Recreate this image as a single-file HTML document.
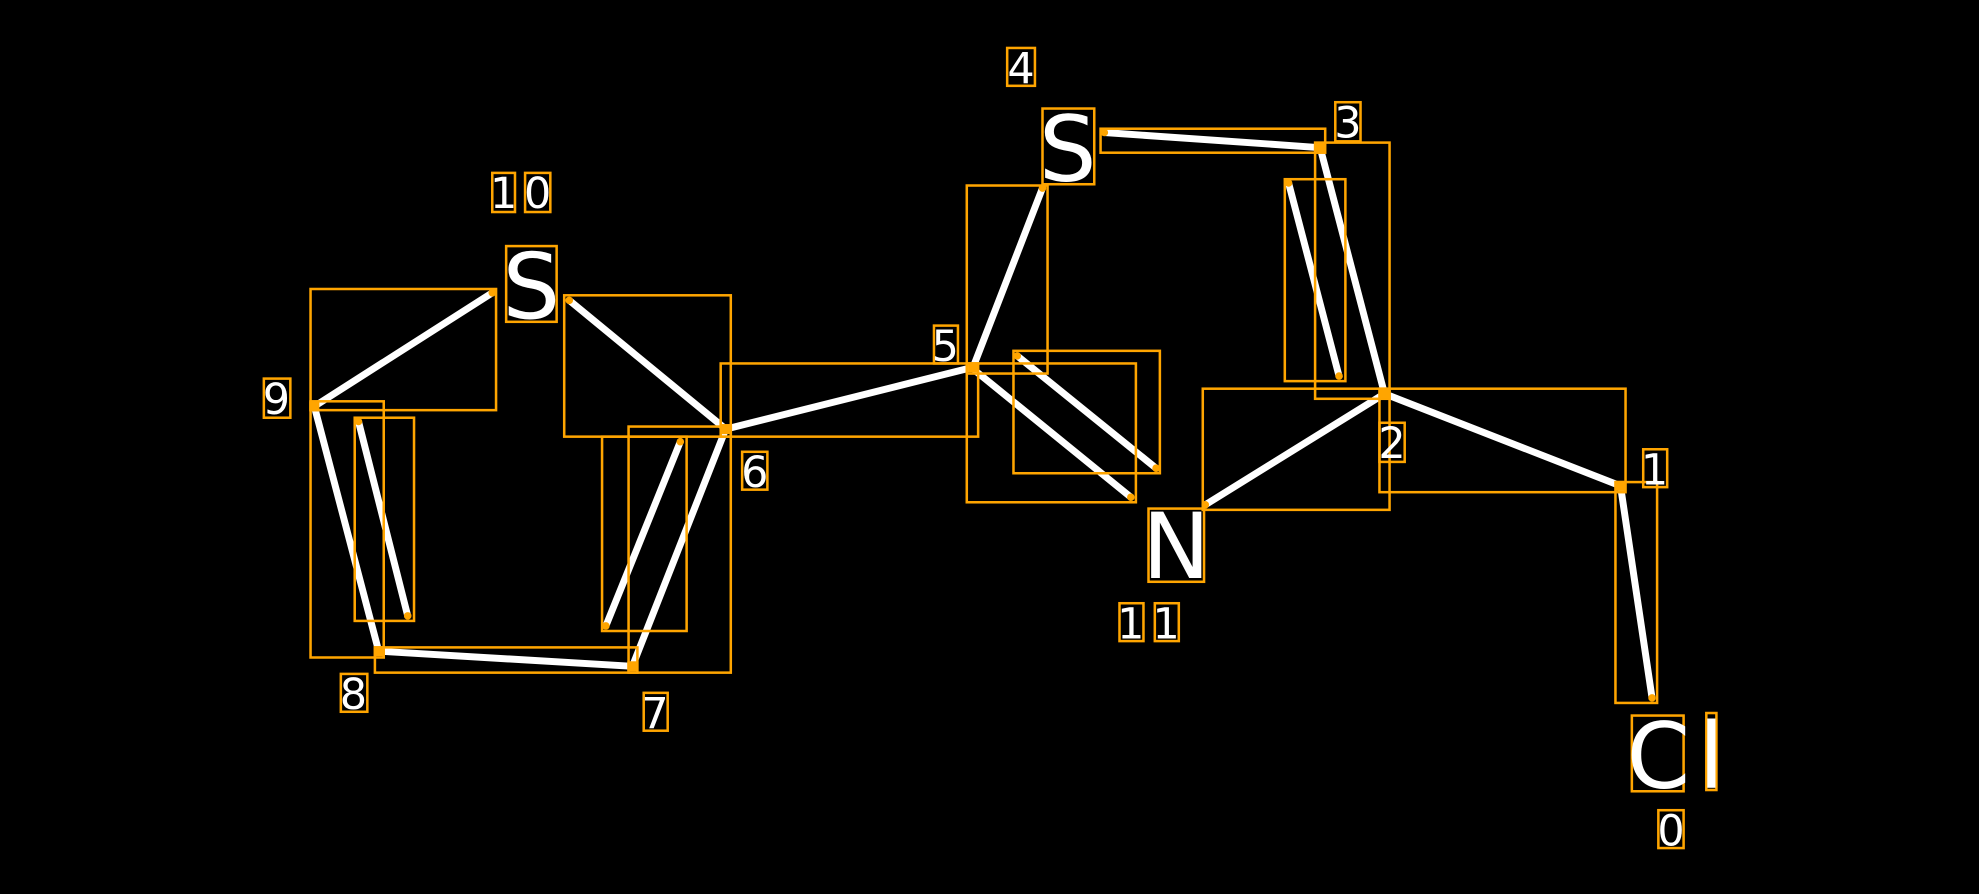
<!DOCTYPE html>
<html><head><meta charset="utf-8"><style>
html,body{margin:0;padding:0;background:#000;}
svg{display:block;}
text{font-family:"DejaVu Sans","Liberation Sans",sans-serif;fill:#fff;text-anchor:middle;}
</style></head><body>
<svg width="1979" height="894" viewBox="0 0 1568 708.4" xmlns="http://www.w3.org/2000/svg">
<rect width="1568" height="708.4" fill="#000"/>
<g stroke="#fff" stroke-width="5.5" stroke-linecap="round">
<line x1="249" y1="322" x2="390" y2="232"/>
<line x1="451" y1="238" x2="575" y2="340"/>
<line x1="575" y1="340" x2="771" y2="291"/>
<line x1="771" y1="291" x2="826" y2="149"/>
<line x1="875" y1="105" x2="1046" y2="117"/>
<line x1="1046" y1="117" x2="1097" y2="312"/>
<line x1="1021" y1="145" x2="1061" y2="298"/>
<line x1="1097" y1="312" x2="1284" y2="385"/>
<line x1="1284" y1="385" x2="1309" y2="553"/>
<line x1="1097" y1="312" x2="955" y2="400"/>
<line x1="773" y1="294" x2="896" y2="394"/>
<line x1="806" y1="282" x2="916" y2="371"/>
<line x1="575" y1="340" x2="501" y2="528"/>
<line x1="539" y1="350" x2="480" y2="496"/>
<line x1="501" y1="528" x2="300" y2="516"/>
<line x1="300" y1="516" x2="249" y2="322"/>
<line x1="284" y1="334" x2="323" y2="488"/>
</g>
<g fill="none" stroke="#FFA500" stroke-width="2">
<rect x="246" y="229" width="147" height="96"/>
<rect x="447" y="234" width="132" height="112"/>
<rect x="571" y="288" width="204" height="58"/>
<rect x="766" y="147" width="64" height="149"/>
<rect x="872" y="102" width="178" height="19"/>
<rect x="1042" y="113" width="59" height="203"/>
<rect x="1018" y="142" width="48" height="160"/>
<rect x="1093" y="308" width="195" height="82"/>
<rect x="1280" y="382" width="33" height="175"/>
<rect x="953" y="308" width="148" height="96"/>
<rect x="766" y="288" width="134" height="110"/>
<rect x="803" y="278" width="116" height="97"/>
<rect x="498" y="338" width="81" height="195"/>
<rect x="477" y="346" width="67" height="154"/>
<rect x="297" y="513" width="208" height="20"/>
<rect x="246" y="318" width="58" height="203"/>
<rect x="281" y="331" width="47" height="161"/>
<rect x="798" y="38" width="22" height="30"/>
<rect x="826" y="86" width="41" height="60"/>
<rect x="1058" y="81" width="20" height="31"/>
<rect x="390" y="137" width="18" height="31"/>
<rect x="416" y="137" width="20" height="31"/>
<rect x="401" y="195" width="40" height="60"/>
<rect x="209" y="300" width="21" height="31"/>
<rect x="740" y="258" width="19" height="30"/>
<rect x="588" y="358" width="20" height="30"/>
<rect x="1093" y="335" width="20" height="31"/>
<rect x="1302" y="356" width="19" height="30"/>
<rect x="910" y="403" width="44" height="58"/>
<rect x="887" y="478" width="19" height="30"/>
<rect x="915" y="478" width="19" height="30"/>
<rect x="270" y="534" width="21" height="30"/>
<rect x="510" y="549" width="19" height="30"/>
<rect x="1293" y="567" width="41" height="60"/>
<rect x="1352" y="565" width="8" height="61"/>
<rect x="1314" y="642" width="20" height="30"/>
</g>
<g fill="#FFA500">
<circle cx="390" cy="232" r="3"/><circle cx="451" cy="238" r="3"/>
<circle cx="826" cy="149" r="3"/><circle cx="875" cy="105" r="3"/>
<circle cx="1021" cy="145" r="3"/><circle cx="1061" cy="298" r="3"/>
<circle cx="1309" cy="553" r="3"/><circle cx="955" cy="400" r="3"/>
<circle cx="896" cy="394" r="3"/><circle cx="806" cy="282" r="3"/><circle cx="916" cy="371" r="3"/>
<circle cx="539" cy="350" r="3"/><circle cx="480" cy="496" r="3"/>
<circle cx="284" cy="334" r="3"/><circle cx="323" cy="488" r="3"/>
<rect x="245" y="318" width="8" height="8"/><rect x="571" y="336" width="8" height="8"/>
<rect x="767" y="287" width="8" height="8"/><rect x="1042" y="113" width="8" height="8"/>
<rect x="1093" y="308" width="8" height="8"/><rect x="1280" y="381" width="8" height="8"/>
<rect x="497" y="524" width="8" height="8"/><rect x="296" y="512" width="8" height="8"/>
</g>
<g font-size="34">
<text x="809" y="66">4</text><text x="1068" y="109">3</text>
<text x="399" y="165">1</text><text x="426" y="165">0</text>
<text x="219" y="328">9</text><text x="749" y="286">5</text>
<text x="598" y="386">6</text><text x="1103" y="363">2</text>
<text x="1311" y="384">1</text><text x="896" y="506">1</text><text x="924" y="506">1</text>
<text x="280" y="562">8</text><text x="519" y="577">7</text><text x="1324" y="670">0</text>
</g>
<g font-size="72">
<text x="846" y="143">S</text><text x="421" y="252">S</text>
<text x="932" y="458">N</text><text x="1314" y="624">C</text><text x="1356" y="624">l</text>
</g>
</svg>
</body></html>
